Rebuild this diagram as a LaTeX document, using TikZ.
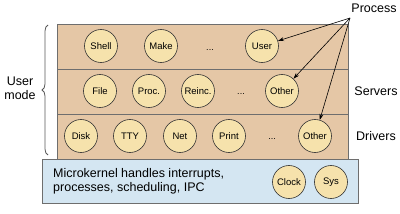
\documentclass[tikz,border=0pt]{standalone}
\usepackage{fontspec}
\setmainfont{Liberation Sans}
\usetikzlibrary{decorations.pathreplacing,arrows.meta}
\definecolor{layer}{HTML}{E5C7A6}
\definecolor{proc}{HTML}{F6E2AC}
\definecolor{kern}{HTML}{D4E6F2}
\definecolor{edge}{HTML}{6E6E6E}
\tikzset{
  proc/.style={circle,draw=black!80,fill=proc,line width=0.6pt,minimum size=33pt,inner sep=0pt,font=\fontsize{9.5}{10}\selectfont},
  lay/.style={draw=edge,fill=layer,line width=0.8pt},
  lbl/.style={font=\fontsize{12.5}{14}\selectfont,inner sep=0pt},
  dots/.style={font=\fontsize{9}{10}\selectfont,inner sep=0pt},
  arr/.style={-{Stealth[length=6pt,width=4pt]},line width=0.6pt}
}
\begin{document}
\begin{tikzpicture}[x=1pt,y=-1pt]
\useasboundingbox (0,0) rectangle (400,214);
% layers
\path[lay] (57,24) rectangle (348,69);
\path[lay] (57,69) rectangle (348,114);
\path[lay] (57,114) rectangle (348,159);
\path[draw=edge,fill=kern,line width=0.8pt] (42,159) rectangle (358,203);
% user row
\node[proc] (shell) at (101,46) {Shell};
\node[proc] (make) at (161,46) {Make};
\node[dots] (d1) at (210,50) {...};
\node[proc] (user) at (262,46) {User};
% servers
\node[proc] (file) at (100,91) {File};
\node[proc] (procn) at (149,91) {Proc.};
\node[proc] (reinc) at (198,91) {Reinc.};
\node[dots] (d2) at (241,94) {...};
\node[proc] (other1) at (282,91) {Other};
% drivers
\node[proc] (disk) at (81,136) {Disk};
\node[proc] (tty) at (130,136) {TTY};
\node[proc] (net) at (180,136) {Net};
\node[proc] (print) at (229,136) {Print};
\node[dots] (d3) at (272,139) {...};
\node[proc] (other2) at (315,136) {Other};
% kernel
\node[lbl,align=left,anchor=west] (mk) at (53,181) {Microkernel handles interrupts,\\processes, scheduling, IPC};
\node[proc] (clock) at (289,182) {Clock};
\node[proc] (sys) at (331,182) {Sys};
% labels
\node[lbl] (process) at (374,8) {Process};
\node[lbl] (servers) at (376,91) {Servers};
\node[lbl] (drivers) at (376,136) {Drivers};
\node[lbl,align=center] (umode) at (20,88) {User\\mode};
\coordinate (ps) at (350,18);
\draw[arr] (ps) -- (user);
\draw[arr] (ps) -- (other1);
\draw[arr] (ps) -- (other2);
\draw[edge!80!black,line width=0.8pt,decorate,decoration={brace,amplitude=6pt}] (48,155) -- (48,25);
\end{tikzpicture}
\end{document}
